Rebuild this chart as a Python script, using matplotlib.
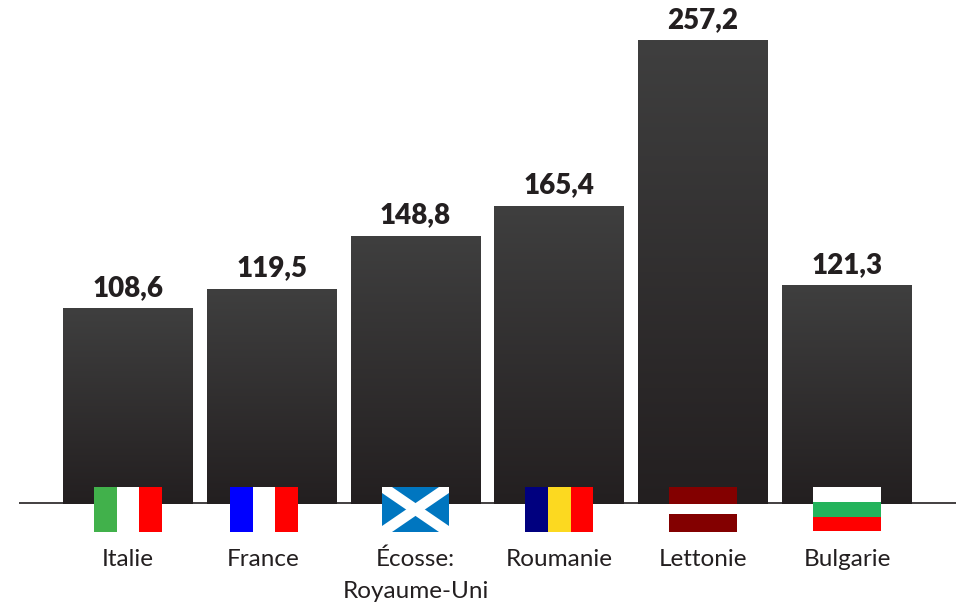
import numpy as np
import matplotlib
matplotlib.use('Agg')
import matplotlib.pyplot as plt
from matplotlib.colors import LinearSegmentedColormap
from matplotlib.patches import Rectangle, Polygon

countries = ['Italie', 'France', 'Écosse:\nRoyaume-Uni', 'Roumanie', 'Lettonie', 'Bulgarie']
values = [108.6, 119.5, 148.8, 165.4, 257.2, 121.3]
value_labels = ['108,6', '119,5', '148,8', '165,4', '257,2', '121,3']

INK = '#231f20'
W, H = 967, 606
PX_PER_UNIT = 1.803   # vertical pixels for one unit of value
BASE_Y = 504          # pixel row of the zero line
PITCH = 143.75
FIRST_X = 128

# left edge of each flag, in pixels
flag_left = [94, 229.5, 382, 525, 669, 813]
label_x = [128, 263.5, 415.5, 559, 703, 847]
flag_top = 487

fig = plt.figure(figsize=(W / 100, H / 100), dpi=100)
ax = fig.add_axes([0, 0, 1, 1])
ax.axis('off')

# bars with a soft vertical gradient
cmap = LinearSegmentedColormap.from_list('bar', ['#3f3f3f', INK])
grad = np.linspace(0, 1, 256).reshape(-1, 1)
x = np.arange(len(values))
bars = ax.bar(x, values, width=130 / PITCH, color=INK, linewidth=0)
for bar in bars:
    bx, bw, bh = bar.get_x(), bar.get_width(), bar.get_height()
    im = ax.imshow(grad, extent=[bx, bx + bw, 0, bh], cmap=cmap, aspect='auto', zorder=2)
    im.set_clip_path(bar)
ax.set_xlim(-FIRST_X / PITCH, (W - FIRST_X) / PITCH)
ax.set_ylim(-(H - BASE_Y) / PX_PER_UNIT, BASE_Y / PX_PER_UNIT)

# zero line, sitting just above the foot of the bars
ax.plot([(19 - FIRST_X) / PITCH, (956 - FIRST_X) / PITCH], [0.55, 0.55], color=INK, lw=1.2,
        solid_capstyle='butt', zorder=3)

for xi, v, lab in zip(x, values, value_labels):
    ax.text(xi, v + 7.5 / PX_PER_UNIT, lab, ha='center', va='bottom', fontsize=20,
            fontweight='heavy', family='Lato', color=INK, zorder=5)

# flags and country names go on a second axes measured in pixels
fax = fig.add_axes([0, 0, 1, 1])
fax.set_xlim(0, W)
fax.set_ylim(H, 0)
fax.axis('off')
fax.patch.set_alpha(0)


def stripes_v(left, colors, widths, height=45):
    pos = left
    for c, w in zip(colors, widths):
        fax.add_patch(Rectangle((pos, flag_top), w, height, fc=c, lw=0))
        pos += w


def stripes_h(left, colors, heights, width=68):
    pos = flag_top
    for c, h in zip(colors, heights):
        fax.add_patch(Rectangle((left, pos), width, h, fc=c, lw=0))
        pos += h


def saltire(left, width=67, height=45, run=10, rise=6):
    top, right, bottom = flag_top, left + width, flag_top + height
    fax.add_patch(Rectangle((left, top), width, height, fc='#0076c0', lw=0))
    fax.add_patch(Polygon([(left, top), (left + run, top), (right, bottom - rise),
                           (right, bottom), (right - run, bottom), (left, top + rise)],
                          fc='white', lw=0))
    fax.add_patch(Polygon([(right, top), (right - run, top), (left, bottom - rise),
                           (left, bottom), (left + run, bottom), (right, top + rise)],
                          fc='white', lw=0))


stripes_v(flag_left[0], ['#41b14b', 'white', '#ff0000'], [23, 22, 23])
stripes_v(flag_left[1], ['#0000ff', 'white', '#ff0000'], [23, 22.5, 23])
saltire(flag_left[2])
stripes_v(flag_left[3], ['#00007f', '#fcd920', '#ff0000'], [23, 23, 22])
stripes_h(flag_left[4], ['#830000', 'white', '#830000'], [17, 10, 18])
stripes_h(flag_left[5], ['white', '#24b35c', '#ff0000'], [15, 15, 14])

for lx, name in zip(label_x, countries):
    fax.text(lx, 549, name, ha='center', va='top', fontsize=17.5, family='Lato',
             color=INK, linespacing=1.6)

fig.savefig('out.png', dpi=100)
